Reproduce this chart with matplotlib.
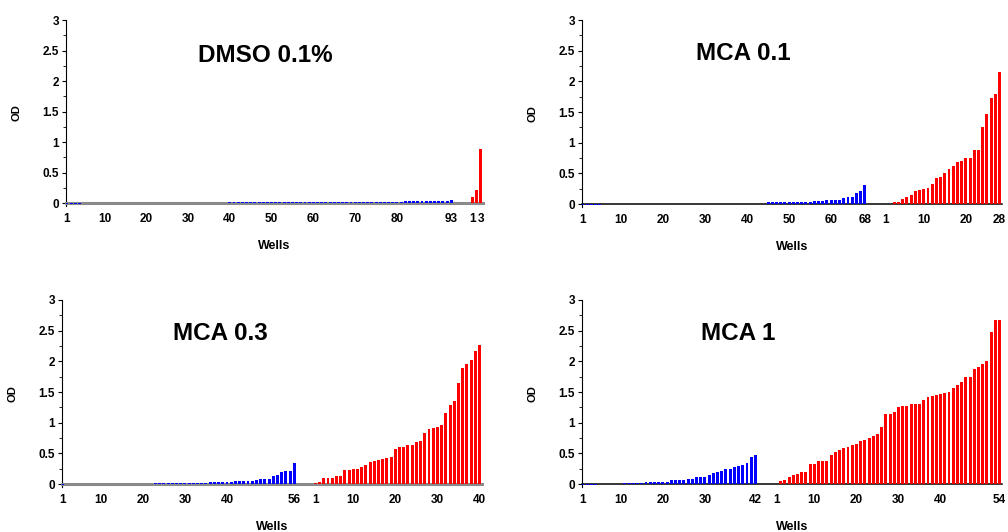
import numpy as np
import matplotlib
matplotlib.use("Agg")
import matplotlib.pyplot as plt
from matplotlib.ticker import MultipleLocator

plt.rcParams['font.family'] = ['Liberation Sans', 'DejaVu Sans']
plt.rcParams['font.weight'] = 'bold'

titles = ["DMSO 0.1%", "MCA 0.1", "MCA 0.3", "MCA 1"]

# OD values, sorted, for each condition (blue = first group, red = second group)
dmso_blue = [-0.015, -0.015, -0.015, -0.015, -0.005, -0.005, -0.005, -0.005, -0.005, -0.005,
             -0.005, -0.005, -0.005, -0.005, -0.005, -0.005, -0.005, -0.005, -0.005, -0.005,
             -0.005, -0.005, -0.005, 0, 0, 0, 0, 0, 0, 0,
             0, 0, 0, 0, 0, 0, 0, 0, 0, 0.015,
             0.015, 0.015, 0.015, 0.015, 0.015, 0.015, 0.015, 0.015, 0.015, 0.015,
             0.015, 0.015, 0.015, 0.015, 0.015, 0.015, 0.015, 0.015, 0.015, 0.015,
             0.015, 0.015, 0.015, 0.015, 0.015, 0.015, 0.015, 0.015, 0.015, 0.015,
             0.015, 0.018, 0.018, 0.018, 0.018, 0.018, 0.018, 0.018, 0.018, 0.018,
             0.018, 0.03, 0.03, 0.03, 0.03, 0.03, 0.03, 0.03, 0.03, 0.03,
             0.03, 0.03, 0.05]
dmso_red = [0.10, 0.21, 0.88]

mca01_blue = [-0.015, -0.015, -0.015, -0.015, -0.015, 0, 0, 0, 0, 0,
              0, 0, 0, 0, 0, 0, 0, 0, 0, 0,
              0, 0, 0, 0, 0, 0, 0, 0, 0, 0,
              0, 0, 0, 0, 0, 0, 0, 0, 0, 0,
              0, 0, 0, 0, 0.03, 0.03, 0.03, 0.03, 0.03, 0.03,
              0.03, 0.03, 0.03, 0.03, 0.03, 0.045, 0.045, 0.045, 0.065, 0.065,
              0.065, 0.065, 0.095, 0.11, 0.11, 0.175, 0.205, 0.305]
mca01_red = [0.003, 0.003, 0.03, 0.03, 0.09, 0.12, 0.15, 0.22, 0.23, 0.25,
             0.27, 0.33, 0.43, 0.44, 0.51, 0.57, 0.62, 0.69, 0.70, 0.75,
             0.75, 0.88, 0.88, 1.26, 1.47, 1.73, 1.80, 2.15]

mca03_blue = [-0.015, 0, 0, 0, 0, 0, 0, 0, 0, 0,
              0, 0, 0.003, 0.003, 0.003, 0.003, 0.003, 0.003, 0.003, 0.003,
              0.003, 0.003, 0.018, 0.018, 0.018, 0.018, 0.018, 0.018, 0.018, 0.018,
              0.018, 0.018, 0.018, 0.018, 0.018, 0.035, 0.035, 0.035, 0.035, 0.035,
              0.035, 0.05, 0.05, 0.05, 0.05, 0.05, 0.065, 0.08, 0.08, 0.08,
              0.13, 0.15, 0.20, 0.21, 0.21, 0.34]
mca03_red = [0.02, 0.04, 0.10, 0.10, 0.10, 0.13, 0.13, 0.23, 0.23, 0.24,
             0.24, 0.27, 0.31, 0.36, 0.38, 0.39, 0.41, 0.42, 0.44, 0.57,
             0.60, 0.60, 0.64, 0.64, 0.68, 0.70, 0.83, 0.90, 0.91, 0.93,
             0.96, 1.16, 1.29, 1.35, 1.65, 1.89, 1.96, 2.02, 2.17, 2.27]

mca1_blue = [-0.015, -0.015, -0.015, -0.015, 0.003, 0.003, 0.003, 0.003, 0.003, 0.003,
             0.02, 0.02, 0.02, 0.02, 0.02, 0.04, 0.04, 0.04, 0.04, 0.04,
             0.04, 0.06, 0.07, 0.07, 0.07, 0.09, 0.09, 0.11, 0.12, 0.12,
             0.15, 0.18, 0.20, 0.22, 0.24, 0.25, 0.28, 0.30, 0.31, 0.35,
             0.44, 0.47]
mca1_red = [0.003, 0.05, 0.07, 0.12, 0.14, 0.17, 0.19, 0.20, 0.32, 0.32,
            0.37, 0.37, 0.38, 0.47, 0.53, 0.55, 0.59, 0.61, 0.63, 0.65,
            0.70, 0.72, 0.75, 0.78, 0.81, 0.93, 1.15, 1.15, 1.18, 1.26,
            1.28, 1.28, 1.31, 1.31, 1.31, 1.37, 1.42, 1.44, 1.45, 1.47,
            1.49, 1.50, 1.57, 1.62, 1.66, 1.74, 1.75, 1.88, 1.90, 1.96,
            2.01, 2.48, 2.67, 2.67]

blue_ticks = [[1, 10, 20, 30, 40, 50, 60, 70, 80, 93],
              [1, 10, 20, 30, 40, 50, 60, 68],
              [1, 10, 20, 30, 40, 56],
              [1, 10, 20, 30, 42]]
red_ticks = [[1, 3],
             [1, 10, 20, 28],
             [1, 10, 20, 30, 40],
             [1, 10, 20, 30, 40, 54]]

blues = [dmso_blue, mca01_blue, mca03_blue, mca1_blue]
reds = [dmso_red, mca01_red, mca03_red, mca1_red]

fig = plt.figure(figsize=(10.08, 5.32), dpi=100)
boxes = [[0.0655, 0.6137, 0.4137, 0.3487],
         [0.5774, 0.6118, 0.4167, 0.3506],
         [0.0615, 0.0855, 0.4167, 0.3506],
         [0.5774, 0.0855, 0.4167, 0.3506]]
title_pos = [(0.477, 0.806), (0.383, 0.822), (0.376, 0.822), (0.371, 0.822)]
base_color = ['#8a8a8a', 'black', '#8a8a8a', 'black']
base_width = [2.2, 1.1, 2.2, 1.1]

for i in range(4):
    ax = fig.add_axes(boxes[i])
    b = blues[i]
    r = reds[i]
    nslots = 100
    xb = np.arange(1, len(b) + 1)
    xr = np.arange(1, len(r) + 1) + (nslots - len(r))
    # bars drawn over the zero line, like the original
    ax.bar(xb, b, width=0.7, color='#0000ff', linewidth=0, zorder=3)
    ax.bar(xr, r, width=0.7, color='#ff0000', linewidth=0, zorder=3)

    ax.set_xlim(0.8, 100.6)
    ax.set_ylim(-0.04, 3)
    ax.yaxis.set_minor_locator(MultipleLocator(0.25))
    ax.set_yticks([0, 0.5, 1, 1.5, 2, 2.5, 3])
    ax.set_yticklabels(['0', '0.5', '1', '1.5', '2', '2.5', '3'])

    tpos = list(blue_ticks[i]) + [t + (nslots - len(r)) for t in red_ticks[i]]
    tlab = [str(t) for t in blue_ticks[i]] + [str(t) for t in red_ticks[i]]
    ax.set_xticks(tpos)
    ax.set_xticklabels(tlab)

    ax.spines['top'].set_visible(False)
    ax.spines['right'].set_visible(False)
    ax.spines['bottom'].set_position(('data', 0))
    ax.spines['bottom'].set_color(base_color[i])
    ax.spines['bottom'].set_linewidth(base_width[i])
    ax.spines['left'].set_linewidth(0.8)

    ax.tick_params(axis='x', length=0, pad=7, labelsize=8.5)
    ax.tick_params(axis='y', which='major', length=3, width=0.8, pad=2, labelsize=8.5)
    ax.tick_params(axis='y', which='minor', length=2, width=0.6)
    for lab in ax.get_xticklabels() + ax.get_yticklabels():
        lab.set_fontweight('bold')

    ax.set_xlabel("Wells", fontsize=9, fontweight='bold', labelpad=11)
    ax.set_ylabel("OD", fontsize=8, fontweight='bold', labelpad=15)
    ax.text(title_pos[i][0], title_pos[i][1], titles[i], transform=ax.transAxes,
            ha='center', va='center', fontsize=17.5, fontweight='bold')

fig.savefig("out.png", dpi=100)
